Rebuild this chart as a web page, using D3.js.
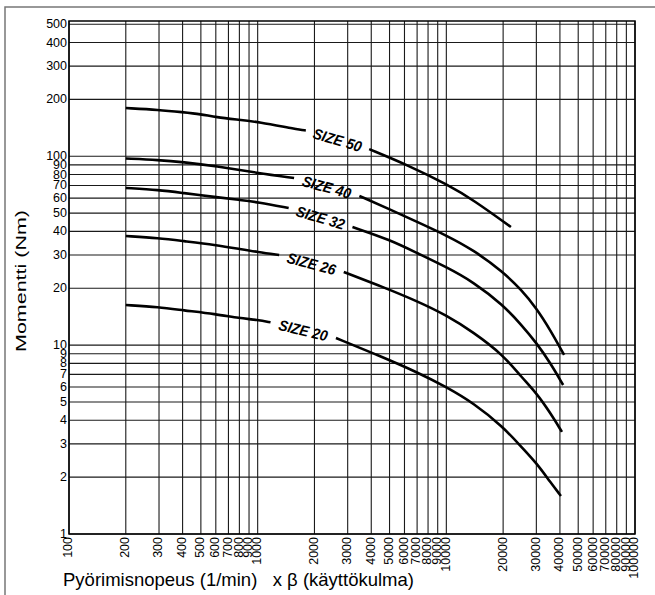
<!DOCTYPE html>
<html>
<head>
<meta charset="utf-8">
<script src="https://cdn.jsdelivr.net/npm/d3@7"></script>
<style>
html, body { margin: 0; padding: 0; background: #fff; }
svg { display: block; font-family: "Liberation Sans", Arial, Helvetica, sans-serif; }
</style>
</head>
<body>
<svg id="chart" width="655" height="595"></svg>
<script>
// ---- data ----
const xTicks = [100,200,300,400,500,600,700,800,900,1000,
                2000,3000,4000,5000,6000,7000,8000,9000,10000,
                20000,30000,40000,50000,60000,70000,80000,90000,100000];
const yTicks = [1,2,3,4,5,6,7,8,9,10,20,30,40,50,60,70,80,90,100,200,300,400,500];
const seriesLabels = ["SIZE 50", "SIZE 40", "SIZE 32", "SIZE 26", "SIZE 20"];
// [speed x beta (1/min), torque (Nm)]; null = gap where the label sits
const size50 = [[200,180],[300,176],[400,171],[500,167],[600,161],[800,156],[1000,152],
                [1620,139],[1800,137],null,
                [3900,109],[6200,90],[10250,70.4],[13900,58.7],[22000,42.2]];
const size40 = [[200,97.3],[300,95.5],[400,93.2],[600,88.8],[1000,81.5],[1560,76.7],null,
                [3460,61.6],[4900,52.9],[7000,44.9],[10000,38.1],[13900,31.9],[20000,24.4],
                [25000,19.6],[30000,15.7],[35600,12.0],[42100,8.87]];
const size32 = [[200,67.9],[300,66.3],[400,63.9],[600,60.8],[800,58.7],[1000,57.2],[1460,53.2],null,
                [3180,42.2],[5060,36.0],[7000,30.7],[10000,25.9],[13900,21.6],[20000,16.3],
                [25000,12.8],[30000,10.3],[35600,8.04],[41600,6.15]];
const size26 = [[200,37.8],[300,36.9],[400,35.6],[600,33.9],[800,32.3],[1000,31.1],[1300,30.0],null,
                [2860,24.4],[4620,20.3],[7000,17.1],[10000,14.4],[13900,11.7],[20000,8.87],
                [25000,6.78],[30000,5.58],[35600,4.37],[41000,3.47]];
const size20 = [[200,16.3],[300,15.9],[400,15.3],[600,14.6],[800,13.9],[1000,13.6],[1170,13.2],null,
                [2600,10.9],[4320,8.87],[7000,7.20],[10000,6.00],[13900,4.94],[20000,3.69],
                [25000,2.89],[30000,2.38],[35600,1.88],[40500,1.59]];
const seriesData = [size50, size40, size32, size26, size20];

(function () {
  const svg = d3.select("#chart");
  const pLeft = 69, pRight = 635, pTop = 21, pBottom = 534;

  const x = d3.scaleLog().domain([100, 100000]).range([pLeft, pRight]);
  const y = d3.scaleLog().domain([1, 520]).range([pBottom, pTop]);

  // outer frame (only top and left visible)
  svg.append("path")
    .attr("d", "M5,600V7H660")
    .attr("fill", "none").attr("stroke", "#777").attr("stroke-width", 1.5);

  // grid
  const grid = svg.append("g").attr("stroke", "#1a1a1a").attr("stroke-width", 1.1);
  grid.selectAll("line.v").data(xTicks).join("line").attr("class", "v")
    .attr("x1", d => x(d)).attr("x2", d => x(d))
    .attr("y1", pTop).attr("y2", pBottom);
  grid.selectAll("line.h").data(yTicks).join("line").attr("class", "h")
    .attr("x1", pLeft).attr("x2", pRight)
    .attr("y1", d => y(d)).attr("y2", d => y(d));

  svg.append("rect")
    .attr("x", pLeft).attr("y", pTop)
    .attr("width", pRight - pLeft).attr("height", pBottom - pTop)
    .attr("fill", "none").attr("stroke", "#000").attr("stroke-width", 1.5);

  // y tick labels
  svg.append("g").selectAll("text").data(yTicks).join("text")
    .attr("x", pLeft - 2).attr("y", d => y(d))
    .attr("text-anchor", "end").attr("dominant-baseline", "central")
    .attr("font-size", 12.5).attr("fill", "#000")
    .text(d => d);

  // x tick labels (vertical)
  svg.append("g").selectAll("text").data(xTicks).join("text")
    .attr("transform", d => `translate(${x(d) - 1},${pBottom + 3}) rotate(-90)`)
    .attr("text-anchor", "end").attr("dy", "0.35em")
    .attr("font-size", 12.5).attr("fill", "#000")
    .text(d => d);

  // curves
  const line = d3.line()
    .defined(d => d !== null)
    .x(d => x(d[0])).y(d => y(d[1]))
    .curve(d3.curveBasis);

  seriesData.forEach((data, i) => {
    svg.append("path")
      .datum(data)
      .attr("d", line)
      .attr("fill", "none").attr("stroke", "#000")
      .attr("stroke-width", 2.6);

    const gi = data.indexOf(null);
    const a = data[gi - 1], b = data[gi + 1];
    const x1 = x(a[0]), y1 = y(a[1]), x2 = x(b[0]), y2 = y(b[1]);
    const ang = Math.atan2(y2 - y1, x2 - x1) * 180 / Math.PI;
    svg.append("text")
      .attr("transform", `translate(${(x1 + x2) / 2},${(y1 + y2) / 2}) rotate(${ang})`)
      .attr("text-anchor", "middle").attr("dominant-baseline", "central")
      .attr("font-size", 15).attr("font-weight", "bold").attr("font-style", "italic")
      .attr("textLength", 50).attr("lengthAdjust", "spacingAndGlyphs")
      .attr("fill", "#000")
      .text(seriesLabels[i]);
  });

  // axis titles
  svg.append("text")
    .attr("transform", "translate(20,281) rotate(-90)")
    .attr("text-anchor", "middle").attr("dominant-baseline", "central")
    .attr("font-size", 15).attr("textLength", 142).attr("lengthAdjust", "spacingAndGlyphs")
    .attr("fill", "#000")
    .text("Momentti (Nm)");

  svg.append("text")
    .attr("x", 63).attr("y", 586)
    .attr("font-size", 18.5).attr("fill", "#000")
    .style("white-space", "pre")
    .text("Pyörimisnopeus (1/min)   x β (käyttökulma)");
})();
</script>
</body>
</html>
